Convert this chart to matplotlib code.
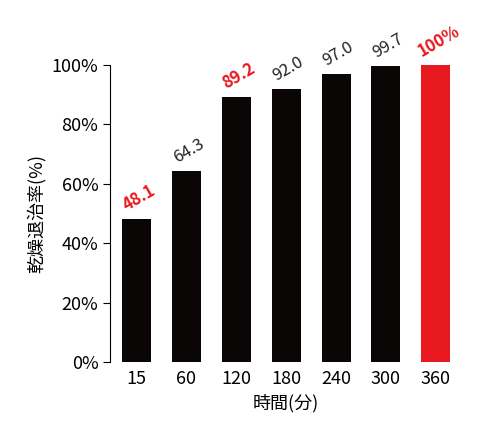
import matplotlib
matplotlib.use("Agg")
import matplotlib.pyplot as plt

plt.rcParams['font.family'] = ['Noto Sans CJK JP', 'DejaVu Sans']

times = ['15', '60', '120', '180', '240', '300', '360']
rates = [48.1, 64.3, 89.2, 92.0, 97.0, 99.7, 100.0]
labels = ['48.1', '64.3', '89.2', '92.0', '97.0', '99.7', '100%']
highlight = [True, False, True, False, False, False, True]

fig = plt.figure(figsize=(5.01, 4.33), dpi=100)
ax = fig.add_axes([0.22, 0.164, 0.70, 0.686])

x = range(len(times))
colors = ['#e8191e' if i == len(times) - 1 else '#0a0606' for i in x]
ax.bar(x, rates, width=0.58, color=colors)

for i in x:
    hl = highlight[i]
    ax.text(i + 0.05, rates[i] + 1.5, labels[i], rotation=30, ha='center', va='bottom',
            fontsize=12, color='#e8191e' if hl else '#222222',
            fontweight='bold' if hl else 'normal')

ax.set_xlim(-0.52, 6.5)
ax.set_ylim(0, 100)
ax.set_yticks([0, 20, 40, 60, 80, 100])
ax.set_yticklabels(['0%', '20%', '40%', '60%', '80%', '100%'])
ax.set_xticks(list(x))
ax.set_xticklabels(times)
ax.tick_params(axis='both', labelsize=13)
ax.tick_params(axis='x', length=0, pad=6)
ax.tick_params(axis='y', length=5)
for s in ['top', 'right', 'bottom']:
    ax.spines[s].set_visible(False)
ax.set_xlabel('時間(分)', fontsize=13)
ax.set_ylabel('乾燥退治率(%)', fontsize=13)

fig.savefig('out.png', dpi=100)
